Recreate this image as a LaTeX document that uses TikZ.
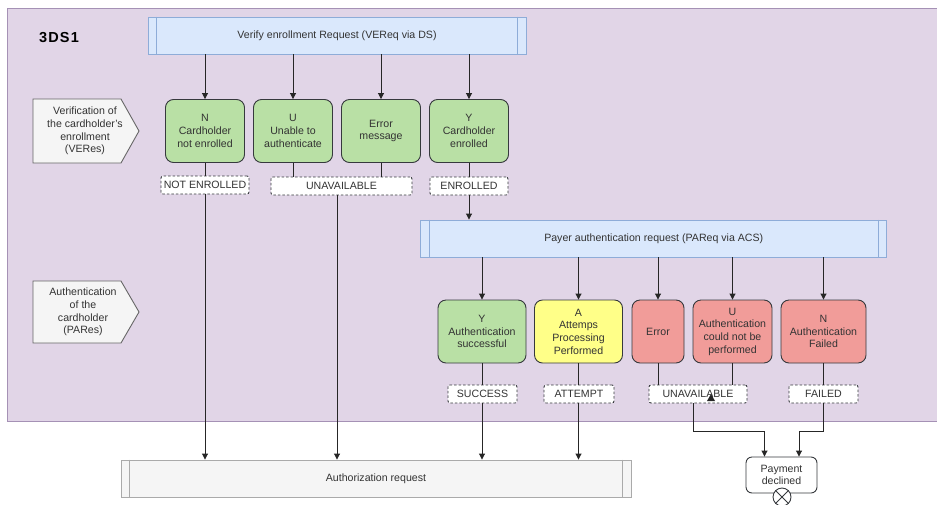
\documentclass[tikz,border=0pt]{standalone}
\usepackage{fontspec}
\setmainfont{Liberation Sans}
\usetikzlibrary{arrows.meta}
\definecolor{purplefill}{HTML}{E1D5E7}
\definecolor{purpleline}{HTML}{A591B5}
\definecolor{bluefill}{HTML}{DAE8FC}
\definecolor{blueline}{HTML}{8EACD8}
\definecolor{greenfill}{HTML}{B9E0A5}
\definecolor{yellowfill}{HTML}{FFFF88}
\definecolor{redfill}{HTML}{F19C99}
\definecolor{darkline}{HTML}{36393D}
\definecolor{grayfill}{HTML}{F5F5F5}
\definecolor{grayline}{HTML}{666666}
\definecolor{lightgrayline}{HTML}{AAAAAA}
\definecolor{txt}{HTML}{333333}
\tikzset{
  every node/.style={text=txt, font=\fontsize{10.6}{12.7}\selectfont, inner sep=0pt},
  procbox/.style={draw=blueline, fill=bluefill, minimum height=37pt},
  resbox/.style={draw=darkline, rounded corners=8pt, minimum height=63pt, align=center},
  tagbox/.style={draw=darkline, dash pattern=on 2.5pt off 2pt, fill=white, rounded corners=2pt, minimum height=18pt},
  arr/.style={draw=black!85, -{Triangle[length=6pt,width=6pt]}},
  ln/.style={draw=black!85},
}
\begin{document}
\begin{tikzpicture}[x=1pt,y=-1pt,line width=0.9pt]
\useasboundingbox (0,0) rectangle (937,504);
% background swimlane
\draw[purpleline, fill=purplefill] (7,8) rectangle (950,421);
\node[font=\fontsize{14.5}{16}\selectfont\bfseries\addfontfeature{LetterSpace=8}, text=black] (title) at (59,38) {3DS1};

% left pentagons
\draw[grayline, fill=grayfill] (33,99) -- (121,99) -- (139,131) -- (121,163) -- (33,163) -- cycle;
\node[align=center] (pent1) at (85,131) {Verification of\\the cardholder's\\enrollment\\(VERes)};
\draw[grayline, fill=grayfill] (33,281) -- (121,281) -- (139,312) -- (121,343) -- (33,343) -- cycle;
\node[align=center] (pent2) at (83,312) {Authentication\\of the\\cardholder\\(PARes)};

% VEReq
\node[procbox, minimum width=378pt] (vereq) at (337,35.5) {Verify enrollment Request (VEReq via DS)};
\draw[blueline] ([xshift=9pt]vereq.north west) -- ([xshift=9pt]vereq.south west);
\draw[blueline] ([xshift=-9pt]vereq.north east) -- ([xshift=-9pt]vereq.south east);

% VERes boxes
\node[resbox, fill=greenfill, minimum width=79pt] (g1) at (205,131) {N\\Cardholder\\not enrolled};
\node[resbox, fill=greenfill, minimum width=79pt] (g2) at (293,131) {U\\Unable to\\authenticate};
\node[resbox, fill=greenfill, minimum width=79pt] (g3) at (381,131) {Error\\message};
\node[resbox, fill=greenfill, minimum width=79pt] (g4) at (469,131) {Y\\Cardholder\\enrolled};

\foreach \g in {g1,g2,g3,g4}{\draw[arr] (vereq.south -| \g.north) -- (\g.north);}

% tags row 1
\node[tagbox, minimum width=88pt] (lne) at (205,185) {NOT ENROLLED};
\node[tagbox, minimum width=141pt] (lu) at (341.5,186) {UNAVAILABLE};
\node[tagbox, minimum width=78pt] (lenr) at (469,186) {ENROLLED};
\draw[ln] (g1.south) -- (lne.north -| g1.south);
\draw[ln] (g2.south) -- (lu.north -| g2.south);
\draw[ln] (g3.south) -- (lu.north -| g3.south);
\draw[ln] (g4.south) -- (lenr.north -| g4.south);

% PAReq
\node[procbox, minimum width=466pt] (pareq) at (653.75,238.5) {Payer authentication request (PAReq via ACS)};
\draw[blueline] ([xshift=9pt]pareq.north west) -- ([xshift=9pt]pareq.south west);
\draw[blueline] ([xshift=-9pt]pareq.north east) -- ([xshift=-9pt]pareq.south east);
\draw[arr] (lenr.south) -- (pareq.north -| lenr.south);

% PARes boxes
\node[resbox, fill=greenfill, minimum width=88pt] (p1) at (482,331.5) {Y\\Authentication\\successful};
\node[resbox, fill=yellowfill, minimum width=88pt] (p2) at (578.5,331.5) {A\\Attemps\\Processing\\Performed};
\node[resbox, fill=redfill, minimum width=52pt] (p3) at (658,331.5) {Error};
\node[resbox, fill=redfill, minimum width=79pt] (p4) at (732.5,331.5) {U\\Authentication\\could not be\\performed};
\node[resbox, fill=redfill, minimum width=85pt] (p5) at (823.5,331.5) {N\\Authentication\\Failed};
\foreach \p in {p1,p2,p3,p4,p5}{\draw[arr] (pareq.south -| \p.north) -- (\p.north);}

% tags row 2
\node[tagbox, minimum width=69pt] (ls) at (482.5,394) {SUCCESS};
\node[tagbox, minimum width=70pt] (la) at (579,394) {ATTEMPT};
\node[tagbox, minimum width=98pt] (lu2) at (698,394) {UNAVAILABLE};
\node[tagbox, minimum width=69pt] (lf) at (823.5,394) {FAILED};
\draw[ln] (p1.south) -- (ls.north -| p1.south);
\draw[ln] (p2.south) -- (la.north -| p2.south);
\draw[ln] (p3.south) -- (lu2.north -| p3.south);
\draw[ln] (p4.south) -- (lu2.north -| p4.south);
\draw[ln] (p5.south) -- (lf.north -| p5.south);
\fill[black!85] (707,401) -- (715,401) -- (711,394) -- cycle;

% Authorization request
\node[draw=lightgrayline, fill=grayfill, minimum width=510pt, minimum height=37pt] (auth) at (376,478.5) {Authorization request};
\draw[lightgrayline] ([xshift=9pt]auth.north west) -- ([xshift=9pt]auth.south west);
\draw[lightgrayline] ([xshift=-9pt]auth.north east) -- ([xshift=-9pt]auth.south east);
\coordinate (luout) at ([xshift=-4.5pt]lu.south);
\draw[arr] (lne.south) -- (auth.north -| lne.south);
\draw[arr] (luout) -- (auth.north -| luout);
\draw[arr] (ls.south -| p1.south) -- (auth.north -| p1.south);
\draw[arr] (la.south -| p2.south) -- (auth.north -| p2.south);

% Payment declined
\node[draw=darkline, fill=white, rounded corners=6pt, minimum width=71pt, minimum height=36pt, align=center] (pay) at (781.5,475) {Payment\\declined};
\coordinate (lu2out) at ([xshift=-5pt]lu2.south);
\coordinate (payin1) at ([xshift=-17pt]pay.north);
\coordinate (payin2) at ([xshift=17.5pt]pay.north);
\coordinate (j1) at (693,431);
\coordinate (j2) at (823.5,431);
\draw[arr] (lu2out) -- (j1) -- (j1 -| payin1) -- (payin1);
\draw[arr] (lf.south) -- (j2) -- (j2 -| payin2) -- (payin2);
\node[draw=darkline, fill=white, circle, minimum size=18pt] (cancel) at (782,497) {};
\draw[darkline] (cancel.north west) -- (cancel.south east);
\draw[darkline] (cancel.north east) -- (cancel.south west);
\end{tikzpicture}
\end{document}
